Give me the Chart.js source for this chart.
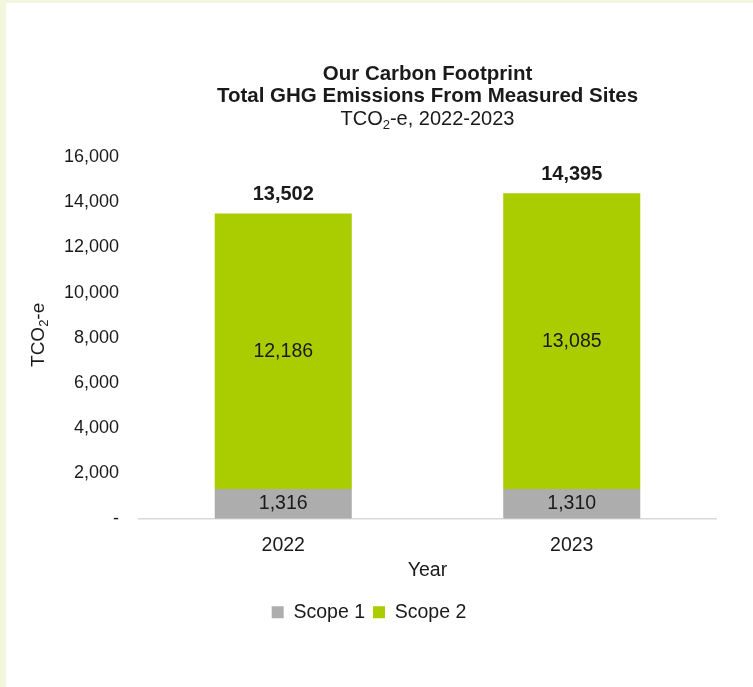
<!DOCTYPE html>
<html>
<head>
<meta charset="utf-8">
<script src="https://cdn.jsdelivr.net/npm/chart.js@4.4.1/dist/chart.umd.min.js"></script>
<style>
  html, body { margin: 0; padding: 0; background: #f1f6dc; width: 753px; height: 687px; overflow: hidden; }
  #card { position: absolute; left: 6px; top: 3px; width: 747px; height: 684px; background: #ffffff; }
  canvas { display: block; }
</style>
</head>
<body>
<div id="card"><canvas id="chart" width="747" height="684"></canvas></div>
<script>
// Emissions by year (tonnes CO2-equivalent)
const years = ['2022', '2023'];
const scope1 = [1316, 1310];
const scope2 = [12186, 13085];
const totals = [13502, 14395];
const seriesNames = ['Scope 1', 'Scope 2'];
const yMax = 16000;
const yStep = 2000;

const FONT = '"Liberation Sans", Arial, sans-serif';
const TEXT = '#1a1a1a';
const GREY = '#adadad';
const GREEN = '#a9cd00';

const fmt = v => v.toLocaleString('en-US');

// draws "TCO" + subscript "2" + rest, centred on x
function drawCO2(ctx, x, y, size, rest, weight) {
  const big = `${weight} ${size}px ${FONT}`;
  const small = `${weight} ${Math.round(size * 0.66)}px ${FONT}`;
  ctx.font = big;
  const w1 = ctx.measureText('TCO').width;
  const w3 = ctx.measureText(rest).width;
  ctx.font = small;
  const w2 = ctx.measureText('2').width;
  const total = w1 + w2 + w3;
  let cx = x - total / 2;
  ctx.textAlign = 'left';
  ctx.textBaseline = 'middle';
  ctx.font = big;
  ctx.fillText('TCO', cx, y);
  cx += w1;
  ctx.font = small;
  ctx.fillText('2', cx, y + size * 0.3);
  cx += w2;
  ctx.font = big;
  ctx.fillText(rest, cx, y);
}

const annotations = {
  id: 'annotations',
  afterDatasetsDraw(chart) {
    const ctx = chart.ctx;
    const area = chart.chartArea;
    const cx = (area.left + area.right) / 2;
    ctx.save();
    ctx.fillStyle = TEXT;
    ctx.textAlign = 'center';
    ctx.textBaseline = 'middle';

    // heading
    ctx.font = `bold 20.5px ${FONT}`;
    ctx.fillText('Our Carbon Footprint', cx, 71);
    ctx.fillText('Total GHG Emissions From Measured Sites', cx, 93);
    drawCO2(ctx, cx, 116, 20, '-e, 2022-2023', 'normal');

    // y axis title
    ctx.save();
    ctx.translate(33, (area.top + area.bottom) / 2 - 3);
    ctx.rotate(-Math.PI / 2);
    drawCO2(ctx, 0, 0, 19, '-e', 'normal');
    ctx.restore();

    // segment values
    ctx.textAlign = 'center';
    ctx.textBaseline = 'middle';
    ctx.font = `19.5px ${FONT}`;
    chart.data.datasets.forEach((ds, i) => {
      const meta = chart.getDatasetMeta(i);
      meta.data.forEach((bar, j) => {
        ctx.fillText(fmt(ds.data[j]), bar.x, (bar.y + bar.base) / 2);
      });
    });

    // stack totals
    ctx.font = `bold 20px ${FONT}`;
    const top = chart.getDatasetMeta(chart.data.datasets.length - 1);
    top.data.forEach((bar, j) => {
      ctx.fillText(fmt(totals[j]), bar.x, bar.y - 19);
    });
    ctx.restore();
  }
};

new Chart(document.getElementById('chart'), {
  type: 'bar',
  data: {
    labels: years,
    datasets: [
      { label: seriesNames[0], data: scope1, backgroundColor: GREY, borderWidth: 0 },
      { label: seriesNames[1], data: scope2, backgroundColor: GREEN, borderWidth: 0 }
    ]
  },
  options: {
    responsive: false,
    animation: false,
    events: [],
    layout: { padding: { top: 154, left: 16, right: 37, bottom: 55 } },
    datasets: { bar: { categoryPercentage: 1, barPercentage: 0.475 } },
    scales: {
      x: {
        stacked: true,
        grid: { display: false, drawTicks: false },
        border: { display: true, color: '#d9d9d9', width: 1.5 },
        ticks: { color: TEXT, font: { family: FONT, size: 19.5 }, padding: 15 },
        title: { display: true, text: 'Year', color: TEXT, font: { family: FONT, size: 19.5 }, padding: { top: -13, bottom: 12 } }
      },
      y: {
        stacked: true,
        min: 0,
        max: yMax,
        grid: { display: false, drawTicks: false },
        border: { display: false },
        afterFit(scale) { scale.width = 117; },
        ticks: {
          stepSize: yStep,
          color: TEXT,
          padding: 20,
          font: { family: FONT, size: 18 },
          callback: v => (v === 0 ? '-' : fmt(v))
        }
      }
    },
    plugins: {
      title: { display: false },
      tooltip: { enabled: false },
      legend: {
        position: 'bottom',
        labels: {
          color: TEXT,
          font: { family: FONT, size: 19.5 },
          boxWidth: 12,
          boxHeight: 12,
          padding: 8
        }
      }
    }
  },
  plugins: [annotations]
});
</script>
</body>
</html>
